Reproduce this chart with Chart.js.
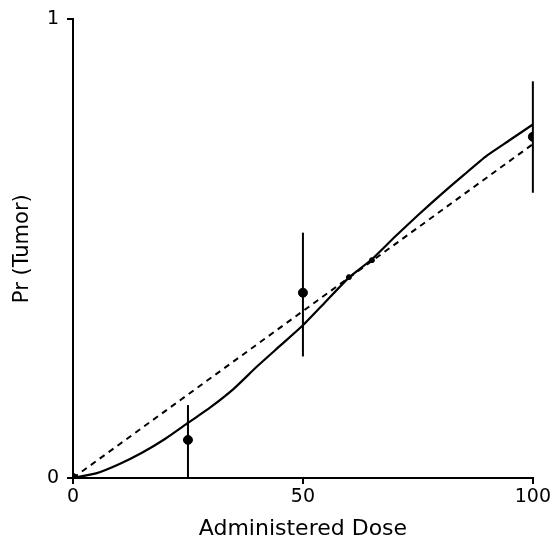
<!DOCTYPE html>
<html>
<head>
<meta charset="utf-8">
<script src="https://cdn.jsdelivr.net/npm/chart.js@4/dist/chart.umd.min.js"></script>
<style>
  html, body { margin: 0; padding: 0; background: #fff; }
  #wrap { width: 553px; height: 542px; }
</style>
</head>
<body>
<div id="wrap"><canvas id="c" width="553" height="542"></canvas></div>
<script>
// Observed data with error bars
const doses = [0, 25, 50, 100];
const observed = [0, 0.083, 0.404, 0.744];
const errLow = [null, 0.0, 0.265, 0.622];
const errHigh = [null, 0.159, 0.535, 0.865];

// Small marks on the fitted curves
const markDoses = [60, 65];
const markValues = [0.438, 0.475];

// Fitted (solid) curve
const curveDoses = [0, 5, 10, 15, 20, 25, 30, 35, 40, 45, 50, 55, 60, 65, 70, 75, 80, 85, 90, 95, 100];
const curveValues = [0, 0.01, 0.03, 0.055, 0.085, 0.12, 0.155, 0.195, 0.243, 0.288, 0.333, 0.385, 0.437, 0.477, 0.526, 0.573, 0.618, 0.661, 0.703, 0.737, 0.771];

// Linear (dashed) fit
const linearDoses = [0, 100];
const linearValues = [0, 0.728];

// Tick labels
const xTicks = [0, 50, 100];
const yTicks = [0, 1];

const toXY = (xs, ys) => xs.map((x, i) => ({ x: x, y: ys[i] }));

const errorBarPlugin = {
  id: 'errorBars',
  afterDatasetsDraw(chart) {
    const ctx = chart.ctx;
    const xs = chart.scales.x, ys = chart.scales.y;
    ctx.save();
    ctx.strokeStyle = '#000';
    ctx.lineWidth = 2;
    doses.forEach((d, i) => {
      if (errLow[i] === null) return;
      const px = xs.getPixelForValue(d);
      ctx.beginPath();
      ctx.moveTo(px, ys.getPixelForValue(errHigh[i]));
      ctx.lineTo(px, ys.getPixelForValue(errLow[i]));
      ctx.stroke();
    });
    ctx.restore();
  }
};

const font = "'DejaVu Sans', 'Liberation Sans', sans-serif";

new Chart(document.getElementById('c'), {
  type: 'scatter',
  data: {
    datasets: [
      {
        data: toXY(curveDoses, curveValues),
        showLine: true,
        borderColor: '#000',
        borderWidth: 2.2,
        pointRadius: 0,
        tension: 0.2,
        fill: false
      },
      {
        data: toXY(linearDoses, linearValues),
        showLine: true,
        borderColor: '#000',
        borderWidth: 2,
        borderDash: [6, 5],
        pointRadius: 0,
        fill: false
      },
      {
        data: toXY(markDoses, markValues),
        pointRadius: 2.5,
        pointBackgroundColor: '#000',
        pointBorderColor: '#000',
        showLine: false
      },
      {
        data: toXY(doses, observed),
        pointRadius: 4.5,
        pointBackgroundColor: '#000',
        pointBorderColor: '#000',
        showLine: false
      }
    ]
  },
  options: {
    responsive: false,
    animation: false,
    devicePixelRatio: 1,
    layout: { padding: { top: 18, right: 20, left: 0, bottom: 0 } },
    plugins: {
      legend: { display: false },
      tooltip: { enabled: false }
    },
    scales: {
      x: {
        type: 'linear',
        min: 0,
        max: 100,
        afterBuildTicks(scale) { scale.ticks = xTicks.map(v => ({ value: v })); },
        afterFit(scale) { scale.height = 64; },
        ticks: {
          color: '#000',
          font: { family: font, size: 19 },
          padding: 2,
          maxRotation: 0
        },
        grid: {
          display: true,
          drawOnChartArea: false,
          drawTicks: true,
          tickLength: 6,
          color: '#000',
          lineWidth: 2
        },
        border: { display: true, color: '#000', width: 2 },
        title: {
          display: true,
          text: 'Administered Dose',
          color: '#000',
          font: { family: font, size: 22 },
          padding: { top: 4, bottom: 0 }
        }
      },
      y: {
        type: 'linear',
        min: 0,
        max: 1,
        afterBuildTicks(scale) { scale.ticks = yTicks.map(v => ({ value: v })); },
        afterFit(scale) { scale.width = 73; },
        ticks: {
          color: '#000',
          font: { family: font, size: 19 },
          padding: 8
        },
        grid: {
          display: true,
          drawOnChartArea: false,
          drawTicks: true,
          tickLength: 6,
          color: '#000',
          lineWidth: 2
        },
        border: { display: true, color: '#000', width: 2 },
        title: {
          display: true,
          text: 'Pr (Tumor)',
          color: '#000',
          font: { family: font, size: 21 },
          padding: { top: 10, bottom: 0 }
        }
      }
    }
  },
  plugins: [errorBarPlugin]
});
</script>
</body>
</html>
